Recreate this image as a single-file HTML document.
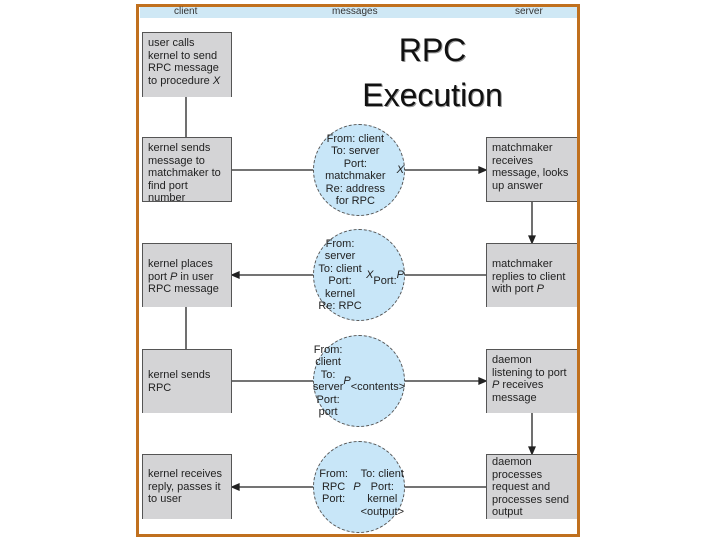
<!DOCTYPE html>
<html><head><style>
body{margin:0;width:720px;height:540px;background:#fff;position:relative;overflow:hidden;font-family:"Liberation Sans",sans-serif}
.frame{position:absolute;left:136px;top:4px;width:438px;height:527px;border:3px solid #c0701e;}
.hdr{position:absolute;left:140px;top:7px;width:437px;height:11px;background:#cfe8f5;font-size:10px;color:#333;}
.hdr span{position:absolute;top:-1px}
.box{position:absolute;background:#d4d4d6;border-top:1px solid #555;font-size:11px;line-height:12.5px;color:#222;padding:4px 5px;box-sizing:border-box}
.c{left:142px;width:90px;border-left:1px solid #555;border-right:1px solid #555}
.s{left:486px;width:91px;border-left:1px solid #555}
.circ{position:absolute;left:313px;width:92px;height:92px;border-radius:50%;background:#c8e6f8;border:1px dashed #555;box-sizing:border-box;font-size:11px;line-height:12.5px;text-align:center;display:flex;align-items:center;justify-content:center;color:#222}
.title{position:absolute;left:330px;top:28px;width:205px;text-align:center;font-size:32px;line-height:45px;color:#111;text-shadow:1px 1px 0 #999}
svg{position:absolute;left:0;top:0}
</style></head><body>
<div class="frame"></div>
<div class="hdr"><span style="left:34px">client</span><span style="left:192px">messages</span><span style="left:375px">server</span></div>
<div class="title">RPC<br>Execution</div>
<svg width="720" height="540">
<g stroke="#222" stroke-width="1.3" fill="#222">
<line x1="186" y1="97" x2="186" y2="137"/><line x1="186" y1="307" x2="186" y2="349"/>
<line x1="232" y1="170" x2="482" y2="170"/><polygon points="486,170 479,167 479,173"/>
<line x1="236" y1="275" x2="486" y2="275"/><polygon points="232,275 239,272 239,278"/>
<line x1="232" y1="381" x2="482" y2="381"/><polygon points="486,381 479,378 479,384"/>
<line x1="236" y1="487" x2="486" y2="487"/><polygon points="232,487 239,484 239,490"/>
<line x1="532" y1="202" x2="532" y2="239"/><polygon points="532,243 529,236 535,236"/>
<line x1="532" y1="413" x2="532" y2="450"/><polygon points="532,454 529,447 535,447"/>
</g></svg>
<div class="box c" style="top:32px;height:65px">user calls kernel to send RPC message to procedure <i>X</i></div>
<div class="box c" style="top:137px;height:65px;border-bottom:1px solid #555">kernel sends message to matchmaker to find port number</div>
<div class="box c" style="top:243px;height:64px;padding-top:14px">kernel places port <i>P</i> in user RPC message</div>
<div class="box c" style="top:349px;height:64px;padding-top:19px">kernel sends RPC</div>
<div class="box c" style="top:454px;height:65px;padding-top:13px">kernel receives reply, passes it to user</div>
<div class="box s" style="top:137px;height:65px;border-bottom:1px solid #555">matchmaker receives message, looks up answer</div>
<div class="box s" style="top:243px;height:64px;padding-top:14px">matchmaker replies to client with port <i>P</i></div>
<div class="box s" style="top:349px;height:64px">daemon listening to port <i>P</i> receives message</div>
<div class="box s" style="top:454px;height:65px;padding-top:1px">daemon processes request and processes send output</div>
<div class="circ" style="top:124px">From: client<br>To: server<br>Port: matchmaker<br>Re: address<br>for RPC <i>X</i></div>
<div class="circ" style="top:229px">From: server<br>To: client<br>Port: kernel<br>Re: RPC <i>X</i><br>Port: <i>P</i></div>
<div class="circ" style="top:335px">From: client<br>To: server<br>Port: port <i>P</i><br>&lt;contents&gt;</div>
<div class="circ" style="top:441px">From: RPC<br>Port: <i>P</i><br>To: client<br>Port: kernel<br>&lt;output&gt;</div>
</body></html>
